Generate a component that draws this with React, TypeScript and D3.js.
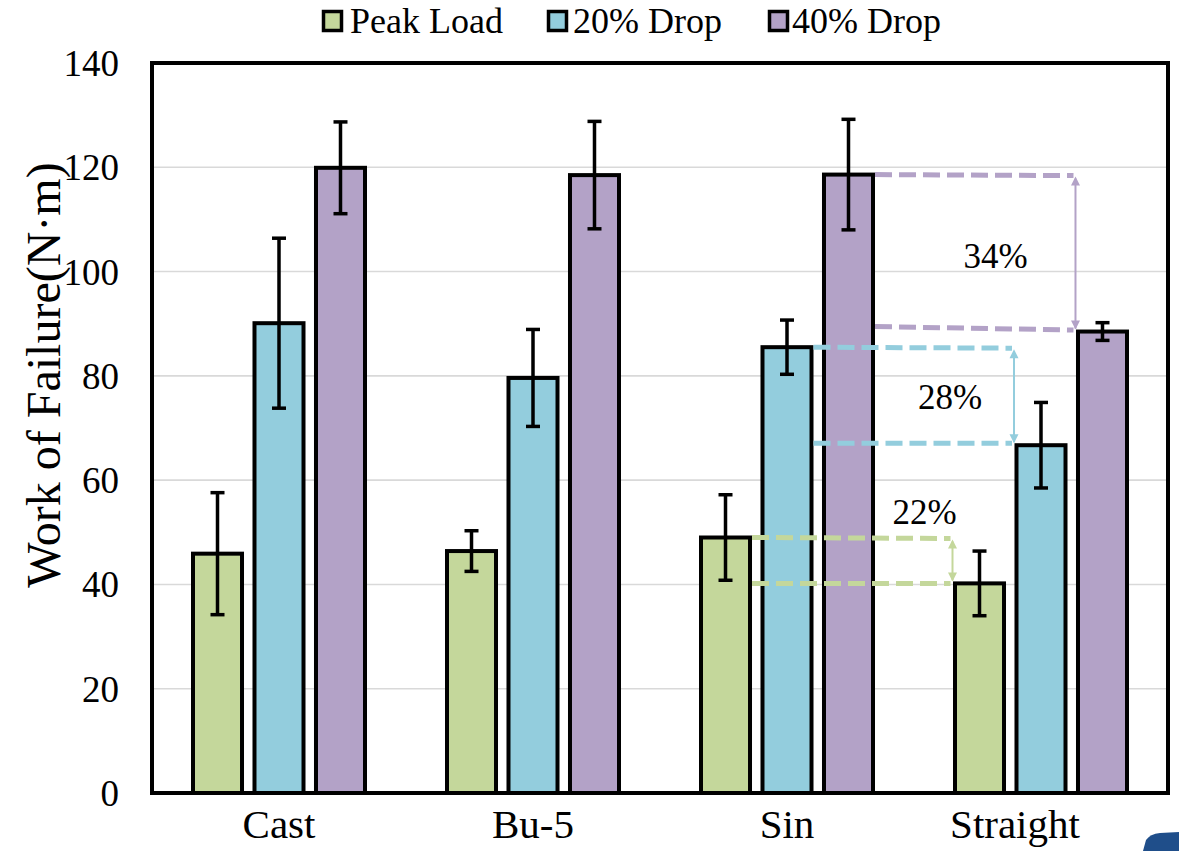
import React from 'react';
import * as d3 from 'd3';

const categories = ['Cast', 'Bu-5', 'Sin', 'Straight'];
const seriesNames = ['Peak Load', '20% Drop', '40% Drop'];
const seriesColors = ['#c4d79b', '#93cddd', '#b3a2c7'];
const peakLoad = [45.9, 46.4, 49.0, 40.2];
const peakLoadErr = [11.7, 3.9, 8.2, 6.2];
const drop20 = [90.1, 79.6, 85.5, 66.7];
const drop20Err = [16.3, 9.3, 5.2, 8.2];
const drop40 = [119.9, 118.5, 118.6, 88.5];
const drop40Err = [8.8, 10.3, 10.6, 1.7];
const yTicks = [0, 20, 40, 60, 80, 100, 120, 140];

// annotations: drop from "Sin" to "Straight" per series
const annotFrom = 'Sin';
const annotTo = 'Straight';
const annotLabels = ['22%', '28%', '34%'];
const annotLabelValues = [51.6, 73.6, 100.7];

const W = 1179;
const H = 851;
const M = { left: 152, top: 63, right: 1168, bottom: 793 };
const FONT = "'Liberation Serif', 'Times New Roman', serif";

export default function App() {
  const values = [peakLoad, drop20, drop40];
  const errs = [peakLoadErr, drop20Err, drop40Err];

  const x0 = d3.scaleBand<string>().domain(categories).range([M.left, M.right]).padding(0);
  const x1 = d3.scaleBand<string>().domain(seriesNames).range([41, 213]).paddingInner(0.203).paddingOuter(0);
  const y = d3.scaleLinear().domain([0, 140]).range([M.bottom, M.top]);
  const bw = x1.bandwidth();

  const legendItems = [
    { box: 322, text: 350 },
    { box: 547, text: 573 },
    { box: 768, text: 792 },
  ];

  const labelDx = [-28, -64, -80];
  const lowerLineStart = [0, -2, -5];
  const lowerLineEnd = [0, -2, -1.5];
  const catLabelShift = [0, 0, 0, -26];

  return (
    <svg width={W} height={H} style={{ position: 'absolute', left: 0, top: 0, background: '#fff' }} fontFamily={FONT}>
      <rect x={0} y={0} width={W} height={H} fill="#fff" />
      {/* gridlines */}
      {yTicks.filter((t) => t > 0 && t < 140).map((t) => (
        <line key={t} x1={M.left} x2={M.right} y1={y(t)} y2={y(t)} stroke="#d9d9d9" strokeWidth={1.6} />
      ))}
      {/* bars */}
      {categories.map((c, ci) => (
        <g key={c} transform={`translate(${x0(c)},0)`}>
          {seriesNames.map((s, si) => {
            const v = values[si][ci];
            const e = errs[si][ci];
            const bx = x1(s)!;
            const cx = bx + bw / 2;
            return (
              <g key={s}>
                <rect x={bx} y={y(v)} width={bw} height={y(0) - y(v)} fill={seriesColors[si]} stroke="#000" strokeWidth={4} />
                <line x1={cx} x2={cx} y1={y(v + e)} y2={y(v - e)} stroke="#000" strokeWidth={3.5} />
                <line x1={cx - 7} x2={cx + 7} y1={y(v + e)} y2={y(v + e)} stroke="#000" strokeWidth={3.5} />
                <line x1={cx - 7} x2={cx + 7} y1={y(v - e)} y2={y(v - e)} stroke="#000" strokeWidth={3.5} />
              </g>
            );
          })}
        </g>
      ))}
      {/* annotations */}
      {seriesNames.map((s, si) => {
        const fi = categories.indexOf(annotFrom);
        const ti = categories.indexOf(annotTo);
        const xStart = x0(annotFrom)! + x1(s)! + bw + 2;
        const ax = x0(annotTo)! + x1(s)! - 2.5;
        const yTop = y(values[si][fi]);
        const yBot = y(values[si][ti]);
        const col = seriesColors[si];
        const ah = 9;
        const aw = 4.5;
        return (
          <g key={s}>
            <line x1={xStart} x2={ax - 2} y1={yTop} y2={yTop + 1} stroke={col} strokeWidth={5} strokeDasharray="17 7" />
            <line x1={xStart} x2={ax - 2} y1={yBot + lowerLineStart[si]} y2={yBot + lowerLineEnd[si]} stroke={col} strokeWidth={5} strokeDasharray="17 7" />
            <line x1={ax} x2={ax} y1={yTop + 4} y2={yBot - 3} stroke={col} strokeWidth={2} />
            <path d={`M${ax},${yTop + 2} L${ax - aw},${yTop + 2 + ah} L${ax + aw},${yTop + 2 + ah} Z`} fill={col} />
            <path d={`M${ax},${yBot - 2} L${ax - aw},${yBot - 2 - ah} L${ax + aw},${yBot - 2 - ah} Z`} fill={col} />
            <text x={ax + labelDx[si]} y={y(annotLabelValues[si])} fontSize={35} textAnchor="middle" fill="#000">
              {annotLabels[si]}
            </text>
          </g>
        );
      })}
      {/* frame */}
      <rect x={M.left} y={M.top} width={M.right - M.left} height={M.bottom - M.top} fill="none" stroke="#000" strokeWidth={4} />
      {/* y ticks */}
      {yTicks.map((t) => (
        <text key={t} x={119} y={y(t)} dy="0.35em" fontSize={37} textAnchor="end" fill="#000">
          {t}
        </text>
      ))}
      {/* x labels */}
      {categories.map((c, ci) => (
        <text key={c} x={x0(c)! + x0.bandwidth() / 2 + catLabelShift[ci]} y={838} fontSize={41} textAnchor="middle" fill="#000">
          {c}
        </text>
      ))}
      {/* y title */}
      <text transform={`translate(60,375) rotate(-90)`} fontSize={48} textAnchor="middle" fill="#000">
        Work of Failure(N·m)
      </text>
      {/* legend */}
      {seriesNames.map((s, si) => (
        <g key={s}>
          <rect x={legendItems[si].box + 1.5} y={11.5} width={18} height={19} fill={seriesColors[si]} stroke="#000" strokeWidth={3.5} />
          <text x={legendItems[si].text} y={33} fontSize={36} fill="#000">
            {s}
          </text>
        </g>
      ))}
      {/* corner decoration */}
      <path d="M1143,851 L1146,840 Q1150,834 1160,833 L1179,832 L1179,851 Z" fill="#1f4e8a" />
    </svg>
  );
}
